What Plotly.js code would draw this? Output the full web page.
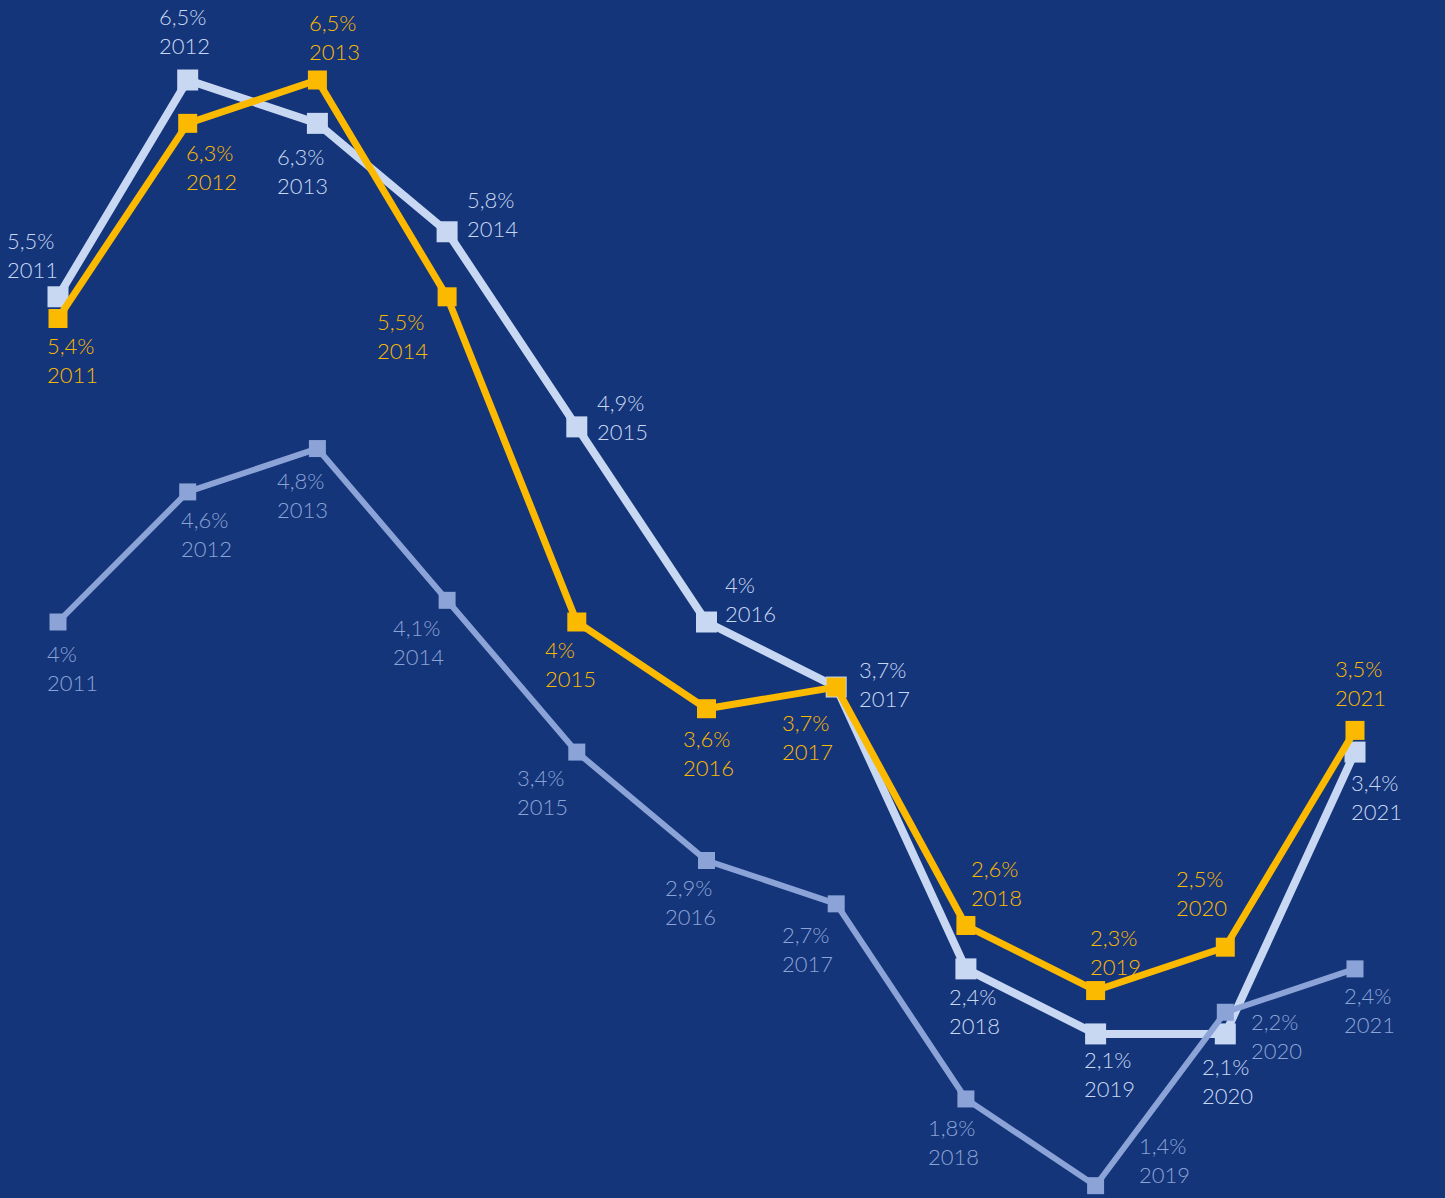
<!DOCTYPE html>
<html>
<head>
<meta charset="utf-8">
<script src="https://cdn.plot.ly/plotly-3.0.1.min.js"></script>
<style>
html,body{margin:0;padding:0;background:#14357a;}
#chart{width:1445px;height:1198px;}
</style>
</head>
<body>
<div id="chart"></div>
<script>
// ---- data ----
const years = [2011, 2012, 2013, 2014, 2015, 2016, 2017, 2018, 2019, 2020, 2021];
const lightSeries = [5.5, 6.5, 6.3, 5.8, 4.9, 4.0, 3.7, 2.4, 2.1, 2.1, 3.4];
const goldSeries = [5.4, 6.3, 6.5, 5.5, 4.0, 3.6, 3.7, 2.6, 2.3, 2.5, 3.5];
const mediumSeries = [4.0, 4.6, 4.8, 4.1, 3.4, 2.9, 2.7, 1.8, 1.4, 2.2, 2.4];

// ---- styles ----
const BG = '#14357a';
const LIGHT = '#c9d8f2';
const GOLD = '#fbb900';
const MEDIUM = '#8ba3d6';

// label offsets (px) of label block (left edge dx, vertical centre dy) from point
const lightOffsets = [[-50,-42],[-28,-49],[-39,48],[21,-18],[21,-10],[19,-23],[24,-3],[-16,42],[-11,40],[-22,47],[-3,45]];
const goldOffsets = [[-10,42],[-1,44],[-7,-43],[-69,39],[-31,42],[-23,44],[-53,50],[6,-43],[-5,-39],[-48,-54],[-19,-47]];
const mediumOffsets = [[-10,46],[-6,42],[-39,46],[-53,42],[-59,40],[-41,42],[-53,45],[-37,43],[44,-26],[27,24],[-10,41]];

function fmt(v){
  return (Number.isInteger(v) ? String(v) : String(v).replace('.', ',')) + '%';
}

function lineTrace(ys, color, width, msize){
  return {
    x: years, y: ys, type: 'scatter', mode: 'lines+markers',
    line: {color: color, width: width},
    marker: {symbol: 'square', size: msize, color: color, line: {width: 0}},
    cliponaxis: false, hoverinfo: 'skip', showlegend: false
  };
}

const FONT = 'Lato, "Noto Sans", sans-serif';
const FS = 22;
const annotations = [];
function addLabels(ys, offsets, color){
  ys.forEach((v, i) => {
    const [dx, dy] = offsets[i];
    annotations.push({x: years[i], y: v, xref: 'x', yref: 'y', showarrow: false,
      xanchor: 'left', yanchor: 'middle', align: 'left', xshift: dx - 2, yshift: -dy,
      borderpad: 0,
      text: fmt(v) + '<br>' + years[i],
      font: {family: FONT, size: FS, color: color, weight: 300}});
  });
}
addLabels(lightSeries, lightOffsets, LIGHT);
addLabels(mediumSeries, mediumOffsets, MEDIUM);
addLabels(goldSeries, goldOffsets, GOLD);

const pxPerYear = 129.7, x0px = 58;
const pxPerUnit = 216.8, yTopVal = 6.5, yTopPx = 80;
const W = 1445, H = 1198;

const layout = {
  width: W, height: H,
  margin: {l: 0, r: 0, t: 0, b: 0, pad: 0},
  paper_bgcolor: BG, plot_bgcolor: BG,
  showlegend: false,
  xaxis: {range: [2011 - x0px / pxPerYear, 2011 + (W - x0px) / pxPerYear],
    showgrid: false, zeroline: false, showticklabels: false, showline: false, fixedrange: true},
  yaxis: {range: [yTopVal - (H - yTopPx) / pxPerUnit, yTopVal + yTopPx / pxPerUnit],
    showgrid: false, zeroline: false, showticklabels: false, showline: false, fixedrange: true},
  annotations: annotations
};

Plotly.newPlot('chart', [
  lineTrace(lightSeries, LIGHT, 8, 21),
  lineTrace(mediumSeries, MEDIUM, 6, 17),
  lineTrace(goldSeries, GOLD, 7, 19)
], layout, {displayModeBar: false, staticPlot: true});
</script>
</body>
</html>
